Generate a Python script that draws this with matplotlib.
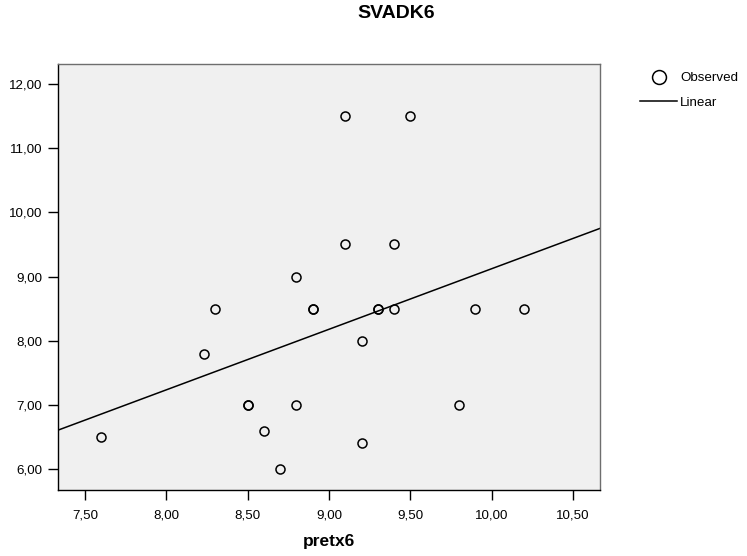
import numpy as np
import matplotlib
matplotlib.use("Agg")
import matplotlib.pyplot as plt
from matplotlib.lines import Line2D

plt.rcParams['font.family'] = ['Liberation Sans', 'DejaVu Sans']

# pretx6 / SVADK6 pairs (duplicates kept, they overprint)
pretx6 = [7.6, 8.23, 8.3, 8.5, 8.5, 8.6, 8.7, 8.8, 8.8, 8.9, 8.9, 9.1, 9.1,
          9.2, 9.2, 9.3, 9.3, 9.4, 9.4, 9.5, 9.8, 9.9, 10.2]
svadk6 = [6.5, 7.8, 8.5, 7.0, 7.0, 6.6, 6.0, 9.0, 7.0, 8.5, 8.5, 11.5, 9.5,
          8.0, 6.4, 8.5, 8.5, 9.5, 8.5, 11.5, 7.0, 8.5, 8.5]

x_ticks = [7.5, 8.0, 8.5, 9.0, 9.5, 10.0, 10.5]
x_tick_labels = ['7,50', '8,00', '8,50', '9,00', '9,50', '10,00', '10,50']
y_ticks = [6.0, 7.0, 8.0, 9.0, 10.0, 11.0, 12.0]
y_tick_labels = ['6,00', '7,00', '8,00', '9,00', '10,00', '11,00', '12,00']

fig = plt.figure(figsize=(7.47, 5.56), dpi=100)
ax = fig.add_axes([0.0776, 0.1187, 0.7256, 0.7667])
ax.set_facecolor('#f0f0f0')

x_lo, x_hi = 7.334, 10.666
ax.set_xlim(x_lo, x_hi)
ax.set_ylim(5.673, 12.316)

ax.plot(pretx6, svadk6, 'o', ms=6.5, mfc='none', mec='black', mew=1.1,
        zorder=3)

# linear fit across the full x range
slope, intercept = np.polyfit(pretx6, svadk6, 1)
xs = np.array([x_lo, x_hi])
ax.plot(xs, slope * xs + intercept, color='black', lw=1.1, zorder=2)

ax.set_xticks(x_ticks)
ax.set_xticklabels(x_tick_labels)
ax.set_yticks(y_ticks)
ax.set_yticklabels(y_tick_labels)
ax.tick_params(direction='out', length=7, width=1, color='black',
               labelsize=9.6)
ax.tick_params(axis='x', pad=7)
ax.tick_params(axis='y', pad=4)

for side in ['left', 'bottom']:
    ax.spines[side].set_color('black')
    ax.spines[side].set_linewidth(1)
for side in ['top', 'right']:
    ax.spines[side].set_color('#6e6e6e')
    ax.spines[side].set_linewidth(1)

ax.set_xlabel('pretx6', fontsize=12.5, fontweight='bold', labelpad=9)
fig.text(0.53, 1 - 13 / 556, 'SVADK6', ha='center', va='center',
         fontsize=14, fontweight='bold')

handles = [
    Line2D([], [], marker='o', ls='none', ms=10, mfc='none', mec='black',
           mew=1.1),
    Line2D([], [], color='black', lw=1.1),
]
fig.legend(handles, ['Observed', 'Linear'], loc='upper left',
           bbox_to_anchor=(640 / 747, 1 - 72 / 556), frameon=False,
           fontsize=9.6, handlelength=2.8, handletextpad=0.2,
           labelspacing=0.9, borderpad=0, borderaxespad=0)

plt.savefig('out.png', dpi=100)
plt.close()
